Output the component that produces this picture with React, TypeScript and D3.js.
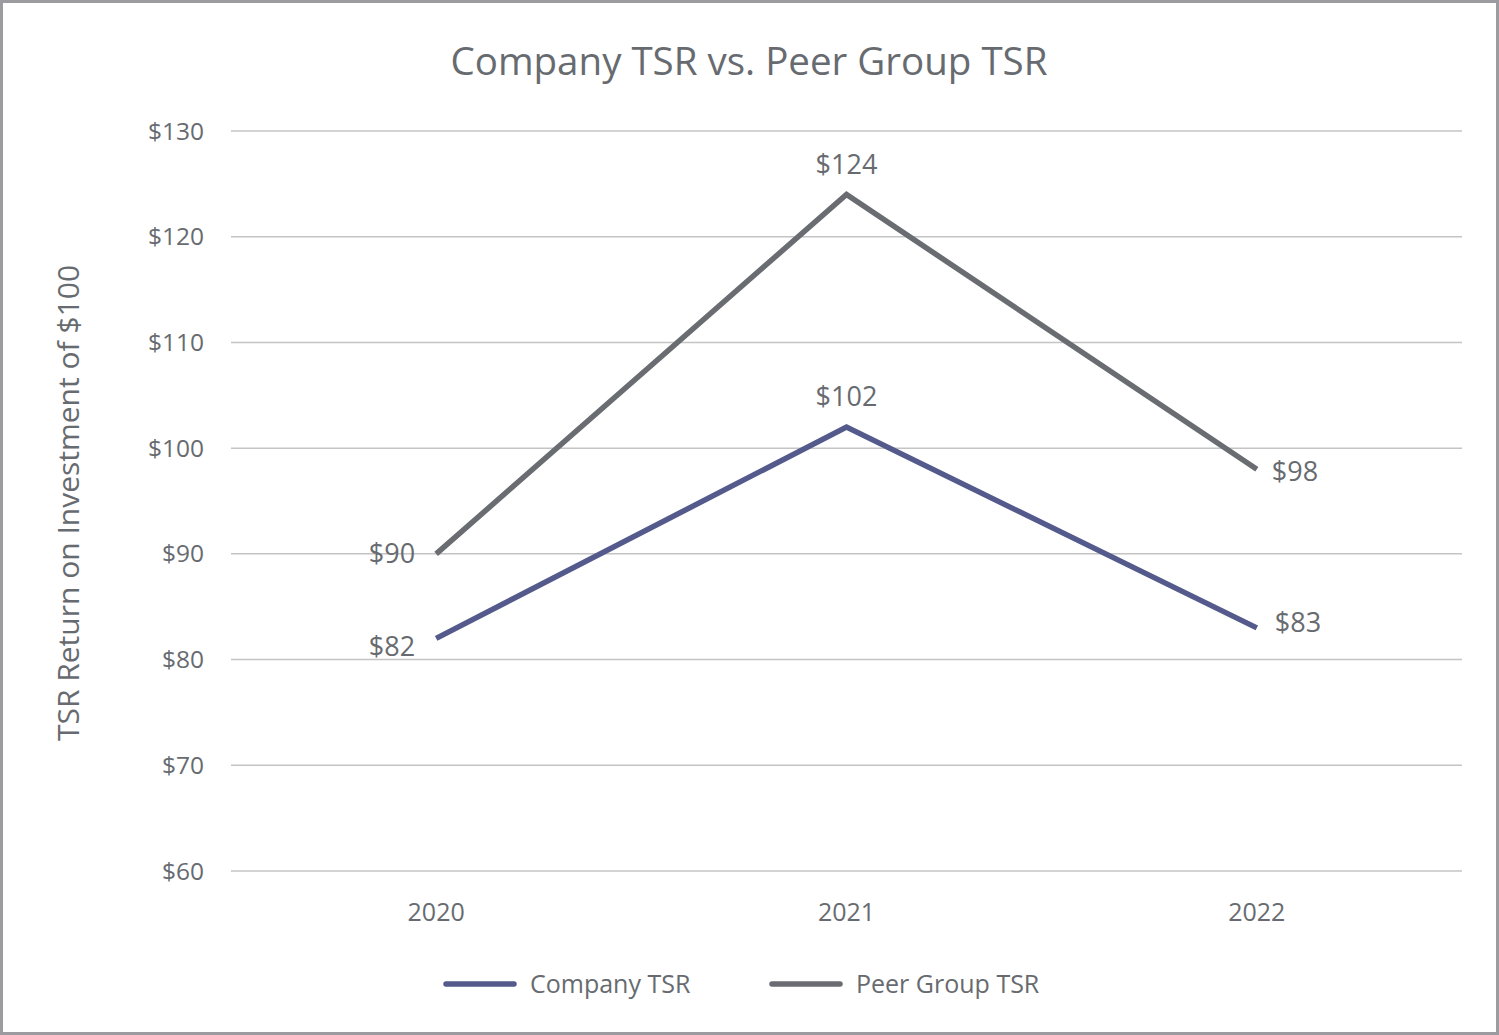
import { useEffect, useRef } from "react"
import * as d3 from "d3"

const years = ["2020", "2021", "2022"]
const companyTSR = [82, 102, 83]
const peerTSR = [90, 124, 98]
const yTicks = [60, 70, 80, 90, 100, 110, 120, 130]

const seriesNames = ["Company TSR", "Peer Group TSR"]
const seriesColors = ["#545a8b", "#696c70"]

const W = 1499
const H = 1035
const FONT = "'Open Sans', sans-serif"
const TEXT = "#676b70"

export default function App() {
  const svgRef = useRef<SVGSVGElement>(null)

  useEffect(() => {
    if (!svgRef.current) return
    const svg = d3.select(svgRef.current)
    svg.selectAll("*").remove()

    const left = 231
    const right = 1462
    const top = 131
    const bottom = 871

    // frame
    svg.append("rect")
      .attr("x", 1.5).attr("y", 1.5)
      .attr("width", W - 3).attr("height", H - 3)
      .attr("fill", "#fff")
      .attr("stroke", "#9b9ba0")
      .attr("stroke-width", 3)

    const x = d3.scaleBand<string>().domain(years).range([left, right])
    const y = d3.scaleLinear().domain([60, 130]).range([bottom, top])
    const cx = (d: string) => (x(d) ?? 0) + x.bandwidth() / 2

    // title
    svg.append("text")
      .attr("x", 749).attr("y", 75)
      .attr("text-anchor", "middle")
      .attr("font-family", FONT)
      .attr("font-size", 38.5)
      .attr("fill", TEXT)
      .text("Company TSR vs. Peer Group TSR")

    // grid + tick labels
    yTicks.forEach((t) => {
      svg.append("line")
        .attr("x1", left).attr("x2", right)
        .attr("y1", y(t)).attr("y2", y(t))
        .attr("stroke", "#c4c4c4")
        .attr("stroke-width", 1.5)
      svg.append("text")
        .attr("x", 204).attr("y", y(t))
        .attr("dy", "0.35em")
        .attr("text-anchor", "end")
        .attr("font-family", FONT)
        .attr("font-size", 24.5)
        .attr("fill", TEXT)
        .text(`$${t}`)
    })

    years.forEach((yr) => {
      svg.append("text")
        .attr("x", cx(yr)).attr("y", 912)
        .attr("dy", "0.35em")
        .attr("text-anchor", "middle")
        .attr("font-family", FONT)
        .attr("font-size", 25)
        .attr("fill", TEXT)
        .text(yr)
    })

    // y label
    svg.append("text")
      .attr("transform", `translate(68,${(top + bottom) / 2 + 2}) rotate(-90)`)
      .attr("dy", "0.35em")
      .attr("text-anchor", "middle")
      .attr("font-family", FONT)
      .attr("font-size", 30)
      .attr("fill", TEXT)
      .text("TSR Return on Investment of $100")

    const line = d3.line<number>()
      .x((_, i) => cx(years[i]))
      .y((d) => y(d))

    const series = [companyTSR, peerTSR]
    series.forEach((vals, si) => {
      svg.append("path")
        .datum(vals)
        .attr("d", line)
        .attr("fill", "none")
        .attr("stroke", seriesColors[si])
        .attr("stroke-width", 5.5)
        .attr("stroke-linejoin", "miter")
    })

    // data labels
    const labelDy = [
      [8, -5],   // company: 2020 below, 2022 above
      [0, 2],    // peer
    ]
    series.forEach((vals, si) => {
      vals.forEach((v, i) => {
        let anchor = "middle"
        let dx = 0
        let dy = -30
        if (i === 0) {
          anchor = "end"
          dx = -21
          dy = labelDy[si][0]
        } else if (i === 2) {
          anchor = "start"
          dx = si === 0 ? 18 : 15
          dy = labelDy[si][1]
        }
        svg.append("text")
          .attr("x", cx(years[i]) + dx)
          .attr("y", y(v) + dy)
          .attr("dy", "0.35em")
          .attr("text-anchor", anchor)
          .attr("font-family", FONT)
          .attr("font-size", 27)
          .attr("fill", TEXT)
          .text(`$${v}`)
      })
    })

    // legend
    const legendX = [446, 772]
    seriesNames.forEach((name, i) => {
      svg.append("line")
        .attr("x1", legendX[i]).attr("x2", legendX[i] + 68)
        .attr("y1", 984).attr("y2", 984)
        .attr("stroke", seriesColors[i])
        .attr("stroke-width", 5.5)
        .attr("stroke-linecap", "round")
      svg.append("text")
        .attr("x", legendX[i] + 84).attr("y", 984)
        .attr("dy", "0.35em")
        .attr("font-family", FONT)
        .attr("font-size", 25)
        .attr("fill", TEXT)
        .text(name)
    })
  }, [])

  return (
    <svg
      ref={svgRef}
      width={W}
      height={H}
      style={{ position: "fixed", left: 0, top: 0, display: "block" }}
    />
  )
}
